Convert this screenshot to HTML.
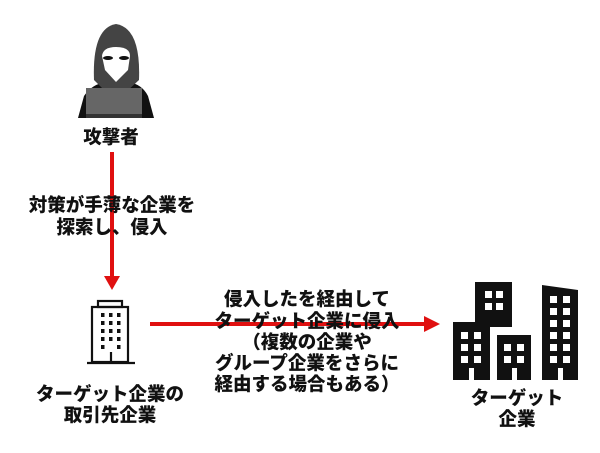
<!DOCTYPE html>
<html><head><meta charset="utf-8"><style>
html,body{margin:0;padding:0;background:#fff;}
svg{display:block}
text{font-family:"Liberation Sans","Noto Sans CJK JP",sans-serif;font-weight:900;fill:#111;font-size:18.5px;text-anchor:middle;dominant-baseline:central}
</style></head><body>
<svg width="600" height="453" viewBox="0 0 600 453" xmlns="http://www.w3.org/2000/svg">
<!-- hacker -->
<path d="M78 118 L84 96 Q92 84 106 82 L128 82 Q142 84 148 96 L154 118 Z" fill="#111"/>
<path d="M94 80 Q92 28 116 24 Q141 28 139 80 L126 92 L106 92 Z" fill="#444"/>
<path d="M102 56 Q103 47 116 47 Q130 47 130 56 L128 70 L116 82 L105 70 Z" fill="#fff"/>
<ellipse cx="108" cy="58" rx="5" ry="2" fill="#111"/>
<ellipse cx="124" cy="58" rx="5" ry="2" fill="#111"/>
<rect x="86" y="88" width="56" height="30" fill="#666"/>
<rect x="86" y="114" width="56" height="4" fill="#333"/>
<text x="111" y="137">攻撃者</text>
<!-- vertical arrow -->
<line x1="112" y1="152" x2="112" y2="278" stroke="#e01010" stroke-width="4"/>
<polygon points="104,276 120,276 112,290" fill="#e01010"/>
<text x="112" y="205">対策が手薄な企業を</text>
<text x="112" y="227">探索し、侵入</text>
<!-- small building -->
<g fill="none" stroke="#111" stroke-width="2.2">
<rect x="98" y="301" width="24" height="6"/>
<rect x="92" y="307" width="36" height="55"/>
<line x1="87" y1="363" x2="135" y2="363"/>
<line x1="111" y1="352" x2="111" y2="363"/>
</g>
<g fill="#111">
<rect x="101" y="313" width="3.5" height="4"/><rect x="109" y="313" width="3.5" height="4"/><rect x="117" y="313" width="3.5" height="4"/>
<rect x="101" y="321" width="3.5" height="4"/><rect x="109" y="321" width="3.5" height="4"/><rect x="117" y="321" width="3.5" height="4"/>
<rect x="101" y="329" width="3.5" height="4"/><rect x="109" y="329" width="3.5" height="4"/><rect x="117" y="329" width="3.5" height="4"/>
<rect x="101" y="337" width="3.5" height="4"/><rect x="109" y="337" width="3.5" height="4"/><rect x="117" y="337" width="3.5" height="4"/>
<rect x="101" y="345" width="3.5" height="4"/><rect x="117" y="345" width="3.5" height="4"/>
</g>
<text x="110" y="394">ターゲット企業の</text>
<text x="110" y="415">取引先企業</text>
<!-- horizontal arrow -->
<line x1="150" y1="324" x2="428" y2="324" stroke="#e01010" stroke-width="4"/>
<polygon points="424,316 440,324 424,332" fill="#e01010"/>
<text x="307" y="299">侵入したを経由して</text>
<text x="307" y="321">ターゲット企業に侵入</text>
<text x="307" y="342">（複数の企業や</text>
<text x="307" y="363">グループ企業をさらに</text>
<text x="307" y="384">経由する場合もある）</text>
<!-- big buildings -->
<g fill="#111">
<rect x="475" y="282" width="37" height="45"/>
<rect x="453" y="322" width="37" height="58"/>
<rect x="497" y="335" width="34" height="45"/>
<polygon points="542,285 578,290 578,380 542,380"/>
</g>
<g fill="#fff">
<rect x="485" y="291" width="7" height="7"/><rect x="496" y="291" width="7" height="7"/>
<rect x="485" y="303" width="7" height="7"/><rect x="496" y="303" width="7" height="7"/>
<rect x="461" y="332" width="7" height="7"/><rect x="474" y="332" width="7" height="7"/>
<rect x="461" y="344" width="7" height="7"/><rect x="474" y="344" width="7" height="7"/>
<rect x="461" y="356" width="7" height="7"/><rect x="474" y="356" width="7" height="7"/>
<rect x="469" y="368" width="5" height="12"/>
<rect x="504" y="344" width="7" height="7"/><rect x="517" y="344" width="7" height="7"/>
<rect x="504" y="356" width="7" height="7"/><rect x="517" y="356" width="7" height="7"/>
<rect x="512" y="368" width="5" height="12"/>
<rect x="550" y="296" width="7" height="7"/><rect x="563" y="296" width="7" height="7"/>
<rect x="550" y="308" width="7" height="7"/><rect x="563" y="308" width="7" height="7"/>
<rect x="550" y="320" width="7" height="7"/><rect x="563" y="320" width="7" height="7"/>
<rect x="550" y="332" width="7" height="7"/><rect x="563" y="332" width="7" height="7"/>
<rect x="550" y="344" width="7" height="7"/><rect x="563" y="344" width="7" height="7"/>
<rect x="550" y="356" width="7" height="7"/><rect x="563" y="356" width="7" height="7"/>
<rect x="558" y="368" width="5" height="12"/>
</g>
<text x="517" y="398">ターゲット</text>
<text x="517" y="419">企業</text>
</svg>
</body></html>
